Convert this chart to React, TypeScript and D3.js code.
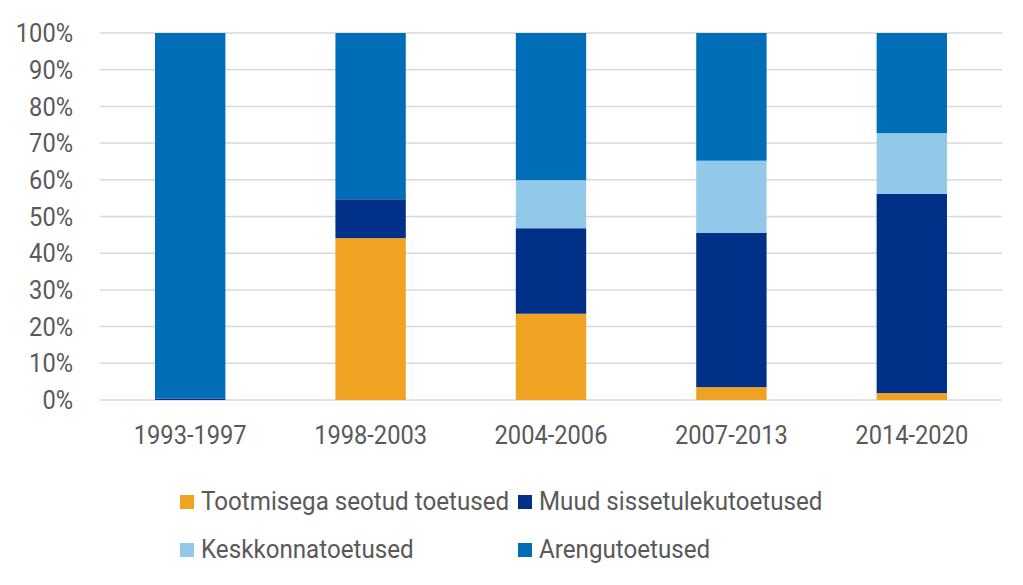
import { useEffect, useRef } from "react";
import * as d3 from "d3";

const periods = ["1993-1997", "1998-2003", "2004-2006", "2007-2013", "2014-2020"];
const seriesNames = ["Tootmisega seotud toetused", "Muud sissetulekutoetused", "Keskkonnatoetused", "Arengutoetused"];
const tootmisega = [0, 44.1, 23.5, 3.5, 1.9];
const muud = [0.4, 10.6, 23.3, 42.1, 54.3];
const keskkonna = [0, 0, 13.1, 19.6, 16.5];
const arengu = [99.6, 45.3, 40.1, 34.8, 27.3];
const yTicks = [0, 10, 20, 30, 40, 50, 60, 70, 80, 90, 100];

const colors = ["#f0a323", "#003087", "#93c9e8", "#006eb6"];

const App = () => {
  const ref = useRef<SVGSVGElement | null>(null);

  useEffect(() => {
    if (!ref.current) return;
    const width = 1023;
    const height = 585;
    const margin = { top: 33, right: 21, bottom: 185, left: 100 };
    const font = "Roboto";
    const textColor = "#595959";
    const numScale = 0.91; // the reference uses a slightly narrow font
    const legendScale = 0.93;

    const svg = d3.select(ref.current).html("").attr("width", width).attr("height", height);

    const rows = periods.map((p, i) => ({
      period: p,
      t: tootmisega[i],
      m: muud[i],
      k: keskkonna[i],
      a: arengu[i],
    }));

    const x = d3
      .scaleBand()
      .domain(periods)
      .range([margin.left, width - margin.right])
      .paddingInner(0.61)
      .paddingOuter(0.305);

    const y = d3.scaleLinear().domain([0, 100]).range([height - margin.bottom, margin.top]);

    // gridlines
    svg.append("g")
      .selectAll("line")
      .data(yTicks)
      .join("line")
      .attr("x1", margin.left)
      .attr("x2", width - margin.right)
      .attr("y1", (d) => y(d))
      .attr("y2", (d) => y(d))
      .attr("stroke", "#d9d9d9")
      .attr("stroke-width", 1.5);

    // y labels
    svg.append("g")
      .selectAll("text")
      .data(yTicks)
      .join("text")
      .attr("transform", (d) => `translate(73,${y(d)}) scale(${numScale},1)`)
      .attr("dy", "0.35em")
      .attr("text-anchor", "end")
      .attr("fill", textColor)
      .style("font-family", font)
      .style("font-size", "26px")
      .text((d) => `${d}%`);

    const stack = d3.stack<any>().keys(["t", "m", "k", "a"]);
    const layers = stack(rows);

    svg.append("g")
      .selectAll("g")
      .data(layers)
      .join("g")
      .attr("fill", (_, i) => colors[i])
      .selectAll("rect")
      .data((d) => d)
      .join("rect")
      .attr("x", (d) => x(d.data.period)!)
      .attr("width", x.bandwidth())
      .attr("y", (d) => y(d[1]))
      .attr("height", (d) => y(d[0]) - y(d[1]));

    // x labels
    svg.append("g")
      .selectAll("text")
      .data(periods)
      .join("text")
      .attr("transform", (d) => `translate(${x(d)! + x.bandwidth() / 2},444) scale(${numScale},1)`)
      .attr("text-anchor", "middle")
      .attr("fill", textColor)
      .style("font-family", font)
      .style("font-size", "26px")
      .text((d) => d);

    // legend
    const legendPos = [
      [180, 502],
      [518, 502],
      [180, 550],
      [518, 550],
    ];
    const lg = svg.append("g")
      .selectAll("g")
      .data(seriesNames)
      .join("g")
      .attr("transform", (_, i) => `translate(${legendPos[i][0]},${legendPos[i][1]})`);
    lg.append("rect")
      .attr("x", 0)
      .attr("y", -7)
      .attr("width", 14)
      .attr("height", 14)
      .attr("fill", (_, i) => colors[i]);
    lg.append("text")
      .attr("transform", `translate(21,8) scale(${legendScale},1)`)
      .attr("fill", textColor)
      .style("font-family", font)
      .style("font-size", "26px")
      .text((d) => d);
  }, []);

  return <svg ref={ref} style={{ display: "block", margin: "-8px" }}></svg>;
};

export default App;
